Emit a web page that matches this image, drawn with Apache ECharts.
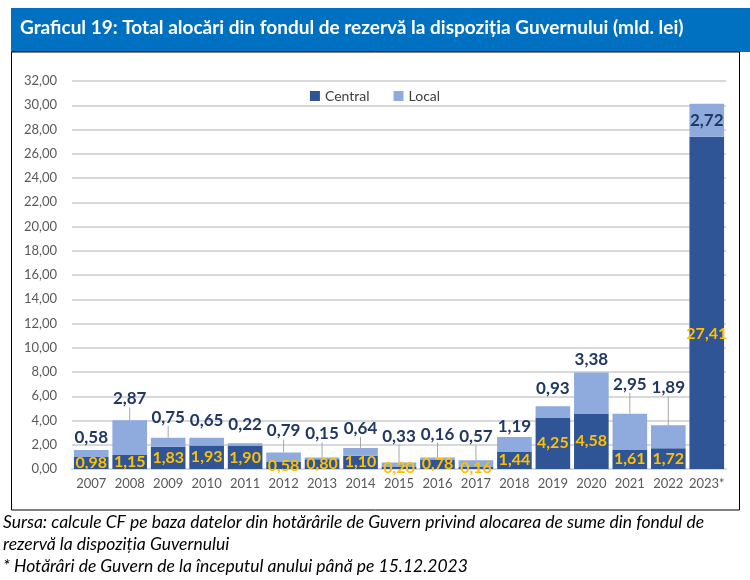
<!DOCTYPE html>
<html lang="ro">
<head>
    <meta charset="UTF-8">
    <title>Graficul 19</title>
    <script src="https://cdn.jsdelivr.net/npm/echarts@6/dist/echarts.min.js"></script>
    <style>
        html, body { margin: 0; padding: 0; background: #fff; }
        #chart { width: 750px; height: 580px; }
    </style>
</head>
<body>
    <div id="chart"></div>
    <script>
        // date
        const years = ['2007', '2008', '2009', '2010', '2011', '2012', '2013', '2014', '2015',
                       '2016', '2017', '2018', '2019', '2020', '2021', '2022', '2023*'];
        const central = [0.98, 1.15, 1.83, 1.93, 1.90, 0.58, 0.80, 1.10, 0.20,
                         0.78, 0.16, 1.44, 4.25, 4.58, 1.61, 1.72, 27.41];
        const local = [0.58, 2.87, 0.75, 0.65, 0.22, 0.79, 0.15, 0.64, 0.33,
                       0.16, 0.57, 1.19, 0.93, 3.38, 2.95, 1.89, 2.72];
        const yTicks = { min: 0, max: 32, step: 2 };

        const titleText = 'Graficul 19: Total alocări din fondul de rezervă la dispoziția Guvernului (mld. lei)';
        const notes = [
            'Sursa: calcule CF pe baza datelor din hotărârile de Guvern privind alocarea de sume din fondul de',
            'rezervă la dispoziția Guvernului',
            '* Hotărâri de Guvern de la începutul anului până pe 15.12.2023'
        ];

        // deplasarea etichetelor "Local" (ca in Excel), cu linie de legatura
        const labelDy = [0, -9, -8, -5, -6, -9, -11, -7, -14, -11, -11, 2, -5, 0, -17, -25, 0];
        const withLine = [0, 1, 1, 0, 0, 1, 1, 1, 1, 1, 1, 0, 0, 0, 1, 1, 0];

        const fmt = v => v.toFixed(2).replace('.', ',');
        const last = years.length - 1;

        const centralData = central.map((v, i) => {
            const item = { value: v };
            if (i === last) item.label = { offset: [0, 31] };
            return item;
        });
        const localData = local.map((v, i) => {
            const item = { value: v, labelLine: { show: !!withLine[i] } };
            if (i === last) item.label = { position: 'inside' };
            return item;
        });

        const chart = echarts.init(document.getElementById('chart'));
        const option = {
            backgroundColor: '#fff',
            animation: false,
            textStyle: { fontFamily: 'Lato' },
            graphic: [
                { type: 'rect', shape: { x: 11, y: 8, width: 739, height: 44 }, style: { fill: '#0070C0' } },
                { type: 'rect', shape: { x: 11.5, y: 52, width: 728, height: 458 },
                  style: { fill: 'none', stroke: '#000', lineWidth: 1 } },
                { type: 'text', left: 20, top: 18,
                  style: { text: titleText, fill: '#fff', font: 'bold 19px Lato' } },
                { type: 'text', left: 3, top: 511,
                  style: { text: notes.join('\n'), fill: '#000', font: 'italic 17.5px Lato', lineHeight: 22 } }
            ],
            legend: {
                top: 84,
                left: 'center',
                icon: 'rect',
                itemWidth: 10,
                itemHeight: 10,
                itemGap: 24,
                textStyle: { fontSize: 14, color: '#404040' },
                data: ['Central', 'Local']
            },
            grid: { left: 72, right: 24, top: 81, bottom: 111 },
            xAxis: {
                type: 'category',
                data: years,
                axisTick: { show: false },
                axisLine: { lineStyle: { color: '#D9D9D9', width: 2 } },
                axisLabel: { color: '#595959', fontSize: 13, margin: 8, interval: 0 }
            },
            yAxis: {
                type: 'value',
                min: yTicks.min,
                max: yTicks.max,
                interval: yTicks.step,
                axisLine: { show: false },
                axisTick: { show: false },
                axisLabel: { color: '#595959', fontSize: 13, margin: 15, formatter: fmt },
                splitLine: { lineStyle: { color: '#D9D9D9', width: 2 } }
            },
            series: [
                {
                    name: 'Central',
                    type: 'bar',
                    stack: 'total',
                    barCategoryGap: '10%',
                    itemStyle: { color: '#2F5597' },
                    label: {
                        show: true,
                        position: 'inside',
                        color: '#FFC000',
                        fontWeight: 'bold',
                        fontSize: 16,
                        formatter: p => fmt(p.value)
                    },
                    data: centralData
                },
                {
                    name: 'Local',
                    type: 'bar',
                    stack: 'total',
                    itemStyle: { color: '#8FAADC' },
                    label: {
                        show: true,
                        position: 'top',
                        distance: 4,
                        color: '#1F3864',
                        fontWeight: 'bold',
                        fontSize: 17,
                        formatter: p => fmt(p.value)
                    },
                    labelLine: { show: true, lineStyle: { color: '#A6A6A6', width: 1 } },
                    labelLayout: p => ({ dy: labelDy[p.dataIndex] }),
                    data: localData
                }
            ]
        };
        chart.setOption(option);
    </script>
</body>
</html>
